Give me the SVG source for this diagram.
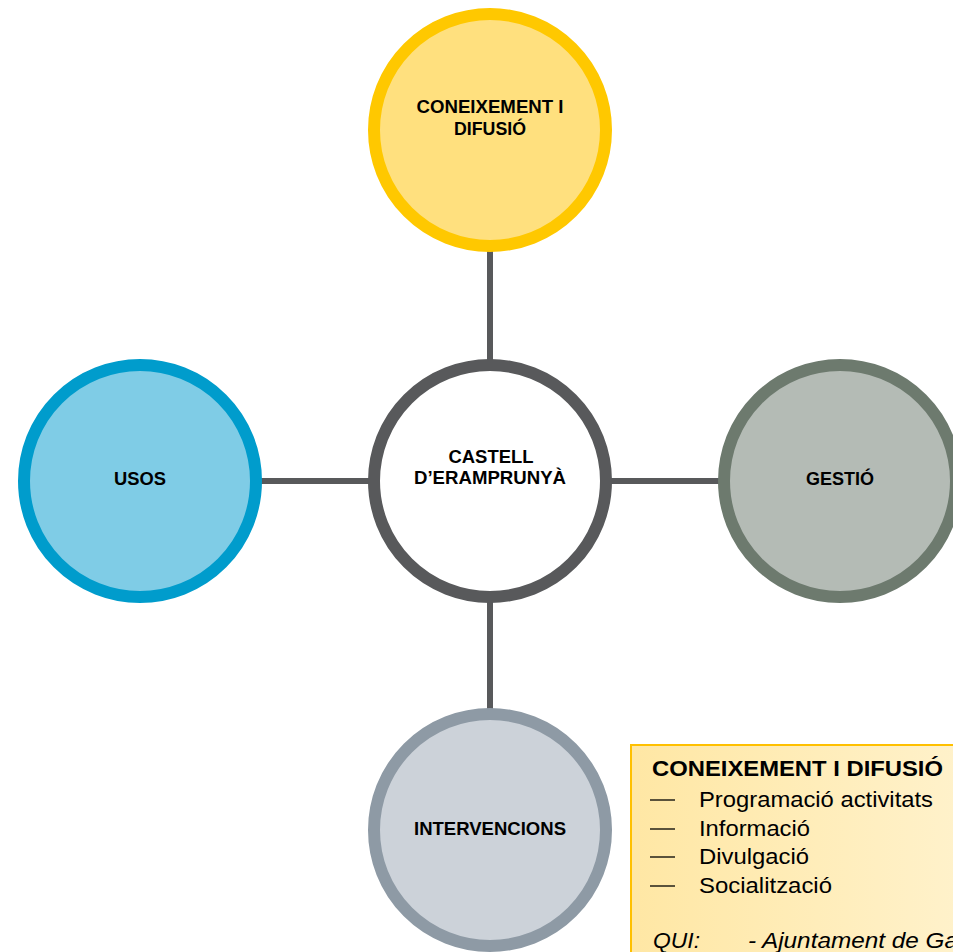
<svg xmlns="http://www.w3.org/2000/svg" width="953" height="952" viewBox="0 0 953 952">
<style>
.lbl{font-family:"Liberation Sans",Arial,sans-serif;font-weight:bold;font-size:17.5px;fill:#000;text-anchor:middle}
.conn{stroke:#58595b;stroke-width:6;fill:none}
.box{font-family:"Liberation Sans",Arial,sans-serif;font-size:21.5px;fill:#000}
</style>
<defs>
<linearGradient id="boxg" x1="0" y1="0" x2="1" y2="0">
<stop offset="0" stop-color="#ffe7a4"/>
<stop offset="1" stop-color="#fff2cc"/>
</linearGradient>
</defs>
<rect width="953" height="952" fill="#fff"/>
<g id="connectors">
<line class="conn" x1="490" y1="250" x2="490" y2="362"/>
<line class="conn" x1="490" y1="600" x2="490" y2="712"/>
<line class="conn" x1="260" y1="481" x2="372" y2="481"/>
<line class="conn" x1="608" y1="481" x2="722" y2="481"/>
</g>
<g id="coneixement">
<circle cx="490" cy="130" r="116" fill="#ffe07e" stroke="#ffc800" stroke-width="12"/>
<text class="lbl" x="490" y="113" textLength="147" lengthAdjust="spacingAndGlyphs">CONEIXEMENT I</text>
<text class="lbl" x="490" y="135" textLength="72" lengthAdjust="spacingAndGlyphs">DIFUSIÓ</text>
</g>
<g id="castell">
<circle cx="490" cy="481" r="116" fill="#fff" stroke="#58595b" stroke-width="12"/>
<text class="lbl" x="491" y="463" textLength="85" lengthAdjust="spacingAndGlyphs">CASTELL</text>
<text class="lbl" x="490" y="484" textLength="152" lengthAdjust="spacingAndGlyphs">D’ERAMPRUNYÀ</text>
</g>
<g id="usos">
<circle cx="140" cy="481" r="116" fill="#7fcce6" stroke="#009ccc" stroke-width="12"/>
<text class="lbl" x="140" y="485" textLength="52" lengthAdjust="spacingAndGlyphs">USOS</text>
</g>
<g id="gestio">
<circle cx="840" cy="481" r="116" fill="#b4bbb5" stroke="#6d7a6e" stroke-width="12"/>
<text class="lbl" x="840" y="485" textLength="68" lengthAdjust="spacingAndGlyphs">GESTIÓ</text>
</g>
<g id="intervencions">
<circle cx="490" cy="830" r="116" fill="#ccd2d9" stroke="#8e9aa5" stroke-width="12"/>
<text class="lbl" x="490" y="835" textLength="152" lengthAdjust="spacingAndGlyphs">INTERVENCIONS</text>
</g>
<g id="infobox">
<rect x="631" y="745" width="340" height="230" fill="url(#boxg)" stroke="#ffc000" stroke-width="2"/>
<text class="box" x="652" y="776" font-weight="bold" textLength="291" lengthAdjust="spacingAndGlyphs">CONEIXEMENT I DIFUSIÓ</text>
<g stroke="#000" stroke-width="1.3">
<line x1="650" y1="800" x2="675" y2="800"/>
<line x1="650" y1="829" x2="675" y2="829"/>
<line x1="650" y1="857" x2="675" y2="857"/>
<line x1="650" y1="886" x2="675" y2="886"/>
</g>
<text class="box" x="699" y="807" textLength="234" lengthAdjust="spacingAndGlyphs">Programació activitats</text>
<text class="box" x="699" y="836" textLength="111" lengthAdjust="spacingAndGlyphs">Informació</text>
<text class="box" x="699" y="864" textLength="110" lengthAdjust="spacingAndGlyphs">Divulgació</text>
<text class="box" x="699" y="893" textLength="133" lengthAdjust="spacingAndGlyphs">Socialització</text>
<text class="box" x="653" y="948" font-style="italic" textLength="47" lengthAdjust="spacingAndGlyphs">QUI:</text>
<text class="box" x="748" y="948" font-style="italic" textLength="210" lengthAdjust="spacingAndGlyphs">- Ajuntament de Ga</text>
</g>
</svg>
